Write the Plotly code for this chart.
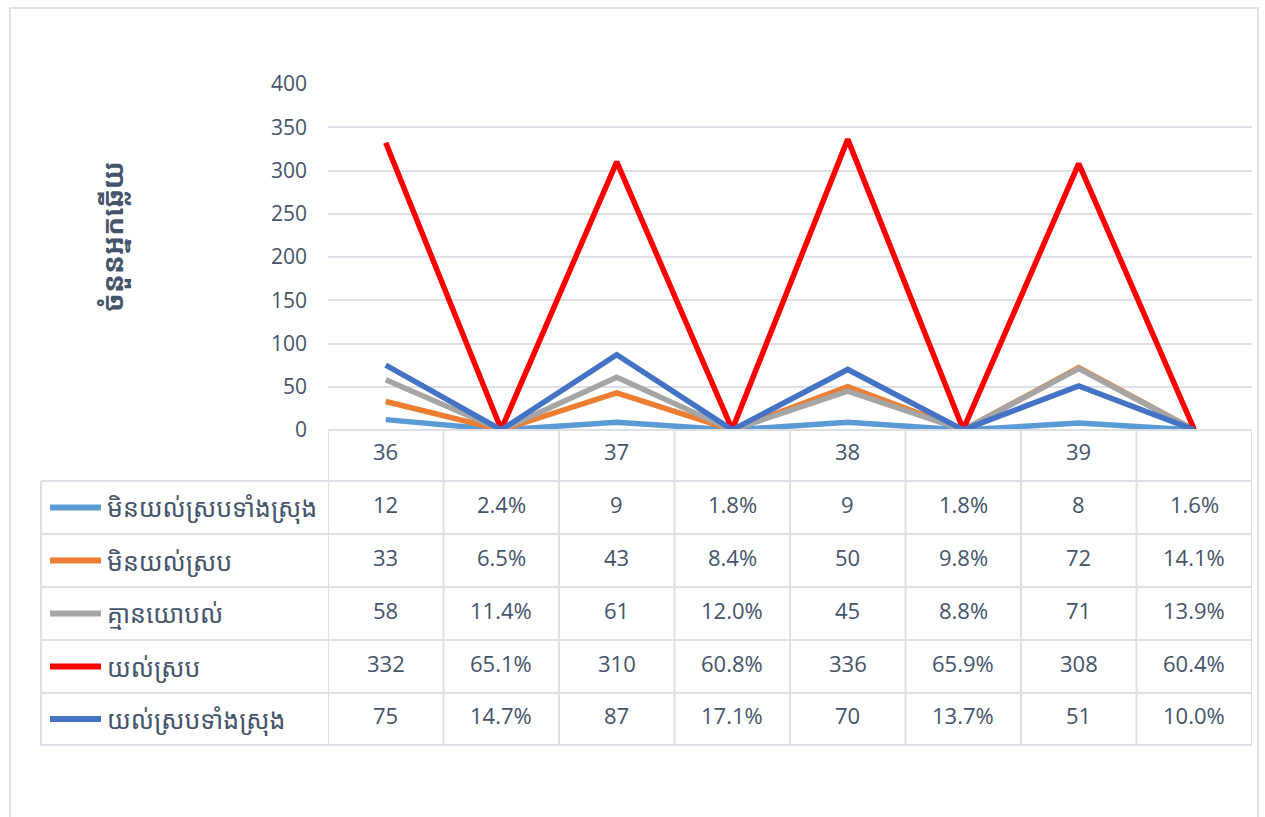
import plotly.graph_objects as go

# week numbers shown in the header row of the data table
weeks = ["36", "37", "38", "39"]

series_names = [
    "មិនយល់ស្របទាំងស្រុង",
    "មិនយល់ស្រប",
    "គ្មានយោបល់",
    "យល់ស្រប",
    "យល់ស្របទាំងស្រុង",
]
series_colors = ["#5b9bd5", "#ed7d31", "#a5a5a5", "#ff0000", "#4472c4"]

# counts per week
strongly_disagree_n = [12, 9, 9, 8]
disagree_n = [33, 43, 50, 72]
no_opinion_n = [58, 61, 45, 71]
agree_n = [332, 310, 336, 308]
strongly_agree_n = [75, 87, 70, 51]

# share per week (%)
strongly_disagree_pct = [2.4, 1.8, 1.8, 1.6]
disagree_pct = [6.5, 8.4, 9.8, 14.1]
no_opinion_pct = [11.4, 12.0, 8.8, 13.9]
agree_pct = [65.1, 60.8, 65.9, 60.4]
strongly_agree_pct = [14.7, 17.1, 13.7, 10.0]

counts = [strongly_disagree_n, disagree_n, no_opinion_n, agree_n, strongly_agree_n]
pcts = [strongly_disagree_pct, disagree_pct, no_opinion_pct, agree_pct, strongly_agree_pct]

W, H = 1265, 817
TEXT = "#44546a"
GRID = "#dde1e7"
FONT = "Noto Sans Khmer, Khmer OS, Open Sans, Noto Sans, sans-serif"
NUM_FONT = "Open Sans, Noto Sans, sans-serif"


def py(px):
    return 1 - px / H


# columns: count then percent (as a fraction, like the spreadsheet)
xs = list(range(2 * len(weeks)))

fig = go.Figure()
for name, color, n, p in zip(series_names, series_colors, counts, pcts):
    ys = []
    for a, b in zip(n, p):
        ys += [a, b / 100]
    fig.add_trace(go.Scatter(
        x=xs, y=ys, mode="lines", name=name,
        line=dict(color=color, width=5.5),
        hovertemplate=name + ": %{y}<extra></extra>",
    ))

# --- data table under the plot ---
header_top, header_bot = 430, 481
row_edges = [481, 534, 587, 640, 693, 745]
left_edge = 41

shapes = []
line_style = dict(color=GRID, width=2)
# vertical cell borders in category columns
for i in range(len(xs) + 1):
    shapes.append(dict(type="line", xref="x", yref="paper",
                       x0=i - 0.5, x1=i - 0.5, y0=py(header_top), y1=py(row_edges[-1]),
                       line=line_style))
# legend column left edge
shapes.append(dict(type="line", xref="paper", yref="paper",
                   x0=left_edge / W, x1=left_edge / W, y0=py(row_edges[0]), y1=py(row_edges[-1]),
                   line=line_style))
# horizontal borders
for e in row_edges:
    shapes.append(dict(type="line", xref="paper", yref="paper",
                       x0=left_edge / W, x1=1252 / W, y0=py(e), y1=py(e), line=line_style))
shapes.append(dict(type="line", xref="x", yref="paper",
                   x0=-0.5, x1=len(xs) - 0.5, y0=py(header_top), y1=py(header_top), line=line_style))
# outer chart border
shapes.append(dict(type="rect", xref="paper", yref="paper",
                   x0=10 / W, x1=1258 / W, y0=py(830), y1=py(8),
                   line=dict(color="#d9d9d9", width=1.5)))

annotations = []
cell_font = dict(size=22, color=TEXT, family=NUM_FONT)
# header row
for i, w in enumerate(weeks):
    annotations.append(dict(x=2 * i, y=py((header_top + header_bot) / 2), xref="x", yref="paper",
                            text=w, showarrow=False, xanchor="center", yanchor="middle",
                            yshift=4, font=cell_font))
# body rows
for r, (name, color, n, p) in enumerate(zip(series_names, series_colors, counts, pcts)):
    yc = py((row_edges[r] + row_edges[r + 1]) / 2)
    for i in range(len(weeks)):
        annotations.append(dict(x=2 * i, y=yc, xref="x", yref="paper", text=str(n[i]),
                                showarrow=False, xanchor="center", yanchor="middle",
                                yshift=4, font=cell_font))
        annotations.append(dict(x=2 * i + 1, y=yc, xref="x", yref="paper", text=f"{p[i]:.1f}%",
                                showarrow=False, xanchor="center", yanchor="middle",
                                yshift=4, font=cell_font))
    # legend key
    shapes.append(dict(type="line", xref="paper", yref="paper",
                       x0=50 / W, x1=101 / W, y0=yc, y1=yc,
                       line=dict(color=color, width=6)))
    annotations.append(dict(x=105 / W, y=yc, xref="paper", yref="paper", text=name,
                            showarrow=False, xanchor="left", yanchor="middle",
                            font=dict(size=25, color=TEXT, family=FONT)))

# y axis title
annotations.append(dict(x=113 / W, y=py(237), xref="paper", yref="paper",
                        text="<b>ចំនួនអ្នកឆ្លើយ</b>", textangle=-90, showarrow=False,
                        xanchor="center", yanchor="middle",
                        font=dict(size=28, color=TEXT, family=FONT)))

fig.update_layout(
    width=W, height=H,
    margin=dict(l=0, r=0, t=0, b=0, autoexpand=False),
    paper_bgcolor="white", plot_bgcolor="white",
    showlegend=False,
    font=dict(family=NUM_FONT, color=TEXT, size=21),
    xaxis=dict(domain=[328 / W, 1252 / W], range=[-0.5, len(xs) - 0.5],
               showticklabels=False, showgrid=False, zeroline=False, fixedrange=True,
               automargin=False),
    yaxis=dict(domain=[py(430), py(84)], range=[0, 400], dtick=50,
               showgrid=True, gridcolor=GRID, gridwidth=2, zeroline=False, automargin=False,
               ticklabelstandoff=20, tickfont=dict(size=21, color=TEXT)),
    shapes=shapes,
    annotations=annotations,
)

fig.write_html("out.html", config={"displayModeBar": False},
               post_script="document.body.style.margin='0';")
